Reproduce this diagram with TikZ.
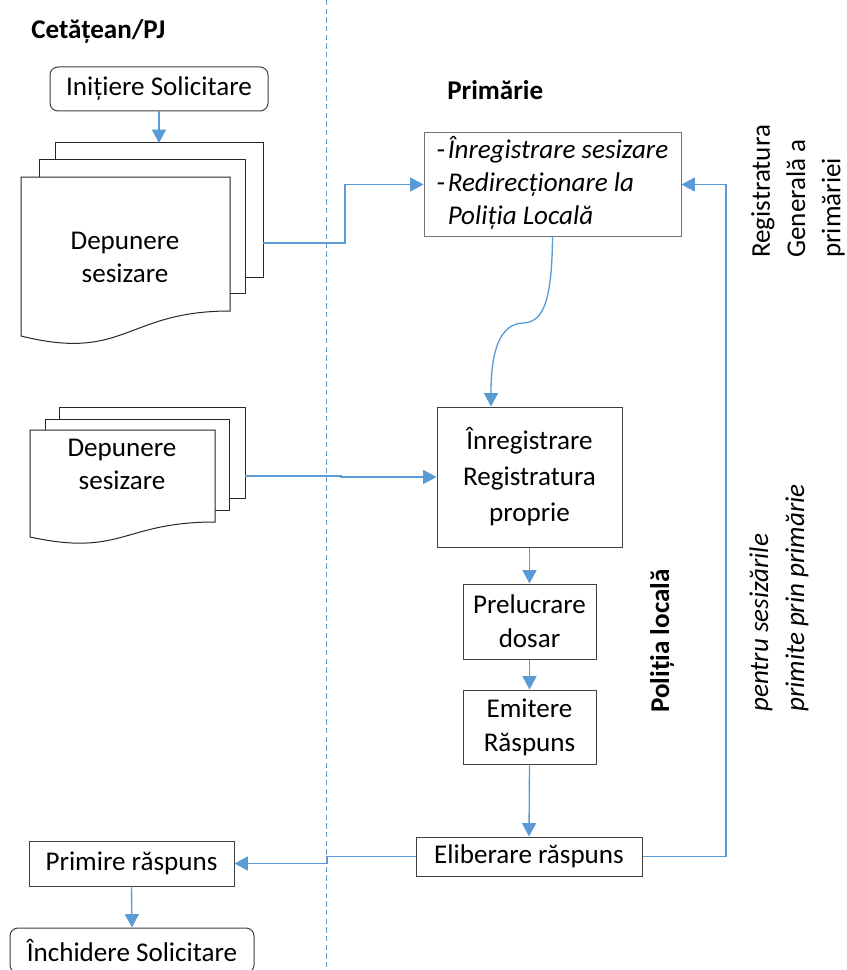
\documentclass[tikz,border=0pt]{standalone}
\usepackage{fontspec}
\setmainfont{Carlito}
\usetikzlibrary{arrows.meta}
\definecolor{flowblue}{HTML}{5B9BD5}
\begin{document}
\begin{tikzpicture}[x=0.75pt,y=-0.75pt,
  every node/.style={font=\fontsize{20.3}{24.75}\selectfont, inner sep=0pt},
  box/.style={draw=black!75, line width=0.75pt, fill=white, align=center},
  rbox/.style={box, rounded corners=6pt},
  sheet/.style={draw=black!85, line width=0.75pt, fill=white},
  flow/.style={draw=flowblue, line width=1pt, -{Triangle[length=10pt,width=10.5pt]}},
  lane/.style={draw=flowblue, line width=0.75pt, dash pattern=on 4pt off 2.5pt},
  lanetitle/.style={font=\fontsize{20.3}{24.75}\selectfont\bfseries},
  sidenote/.style={font=\fontsize{20.3}{26.5}\selectfont, align=left, rotate=90, anchor=west},
]
\useasboundingbox (0,0) rectangle (846,970);

% swimlane separator
\draw[lane] (326,0) -- (326,970);

% lane titles
\node[lanetitle, anchor=base west] (tcit) at (31,39) {Cetățean/PJ};
\node[lanetitle, anchor=base west] (tprim) at (447,100) {Primărie};
\node[lanetitle, rotate=90] (tpol) at (662,641) {Poliția locală};
\node[sidenote] (treg) at (798,258) {Registratura\\Generală a\\primăriei};
\node[sidenote, font=\fontsize{20.3}{27}\selectfont\itshape] (tnote) at (779,712) {pentru sesizările\\primite prin primărie};

% citizen side
\node[rbox, minimum width=163.5pt, minimum height=33pt] (init) at (159,89) {Inițiere Solicitare};

% first stack of documents
\draw[sheet] (55,143) rectangle (263,277);
\draw[sheet] (39,160) rectangle (245,293);
\draw[sheet] (21,177) -- (230,177) -- (230,311)
  .. controls (125.5,311) and (125.5,362) .. (21,336) -- cycle;
\node[align=center] (doc1) at (125,257) {Depunere\\sesizare};
\coordinate (d1in) at (159,143);
\coordinate (d1out) at (263,243);

% second stack of documents
\draw[sheet] (59,407) rectangle (245,498);
\draw[sheet] (45,419) rectangle (229,510);
\draw[sheet] (30,430) -- (215,430) -- (215,522)
  .. controls (122.5,522) and (122.5,557) .. (30,537) -- cycle;
\node[align=center] (doc2) at (122,464) {Depunere\\sesizare};
\coordinate (d2out) at (245,476);

% city hall registry
\node[box, draw=black!55, align=left, minimum width=192.75pt, minimum height=77.25pt] (reg1) at (552.5,184.5)
  {\begin{tabular}{@{}l@{\hspace{2pt}}l@{}}
   -&\textit{Înregistrare sesizare}\\
   -&\textit{Redirecționare la}\\
    &\textit{Poliția Locală}
   \end{tabular}};

% local police steps
\node[box, font=\fontsize{20.3}{27}\selectfont, minimum width=138.75pt, minimum height=105pt] (reg2) at (529.5,477)
  {Înregistrare\\Registratura\\proprie};
\node[box, font=\fontsize{20.3}{25.5}\selectfont, minimum width=99.75pt, minimum height=56.25pt] (prel) at (529.5,621.5)
  {Prelucrare\\dosar};
\node[box, font=\fontsize{20.3}{25.5}\selectfont, minimum width=99.75pt, minimum height=55.5pt] (emit) at (529.5,727)
  {Emitere\\Răspuns};
\node[box, minimum width=169.5pt, minimum height=29.25pt] (elib) at (529,856.5) {Eliberare răspuns};

% answer back to citizen
\node[box, minimum width=153.75pt, minimum height=33.75pt] (prim) at (131.5,863.5) {Primire răspuns};
\node[rbox, minimum width=183pt, minimum height=33.75pt] (inch) at (132,950.5) {Închidere Solicitare};

% connectors
\draw[flow] (init.south) -- (d1in);
\draw[flow] (d1out) -- (345,243) |- (reg1.west);
\draw[flow] (reg1.south) .. controls (552,310) and (540,322) .. (523,323)
  .. controls (500,324) and (491,350) .. ([xshift=-28.9pt]reg2.north);
\draw[flow] (d2out) -- (341,476) |- (reg2.west);
\draw[flow] (reg2.south) -- (prel.north);
\draw[flow] (prel.south) -- (emit.north);
\draw[flow] (emit.south) -- (elib.north);
\draw[flow] (elib.east) -- (726,856.5) |- (reg1.east);
\draw[flow] (elib.west) -- (327,856.5) |- (prim.east);
\draw[flow] (prim.south) -- (inch.north);
\end{tikzpicture}
\end{document}
